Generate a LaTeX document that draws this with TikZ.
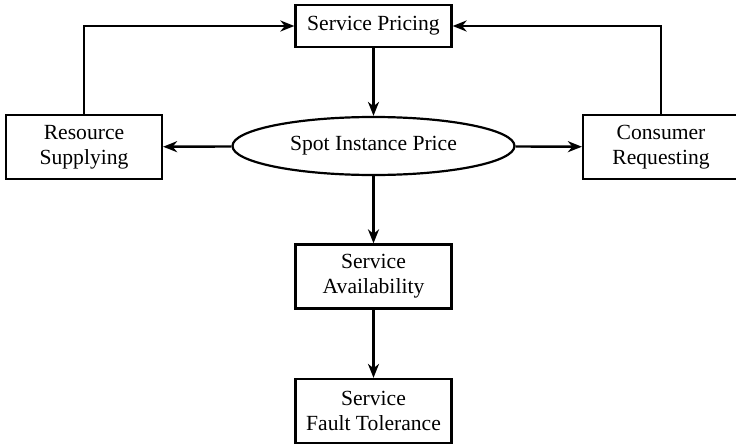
\documentclass[tikz,border=0pt]{standalone}
\usepackage{fontspec}
\setmainfont{Liberation Serif}
\usetikzlibrary{positioning,arrows.meta,shapes.geometric}

\tikzset{
  blk/.style={draw,line width=1.1pt,minimum width=78pt,align=center,inner sep=2pt},
  oval/.style={draw,ellipse,line width=1.1pt,minimum width=141pt,minimum height=29pt,inner sep=1pt},
  link/.style={->,>={Stealth[length=7pt,width=5.5pt,inset=2.2pt]},line width=1.2pt}
}

\begin{document}
\begin{tikzpicture}[x=0.5pt,y=-0.5pt,font=\fontsize{10.8}{12.6}\selectfont]
           \useasboundingbox (0,0) rectangle (736,445);
           \node[blk,minimum height=21pt] (pricing) at (373.5,26) {Service Pricing}; %上
           \node[oval] (spot) at (373.5,146) {Spot Instance Price}; %中心
           \node[blk,minimum height=32pt] (supply) at (84,147) {Resource\\Supplying};
           \node[blk,minimum height=32pt] (consumer) at (661,147) {Consumer\\Requesting};
           \node[blk,minimum height=32pt] (avail) at (373.5,276.5) {Service\\Availability};
           \node[blk,minimum height=32pt] (fault) at (373.5,411) {Service\\Fault Tolerance};

           \draw[link] (pricing) -- (spot);
           \draw[link] (spot) -- (supply);
           \draw[link] (spot) -- (consumer);
           \draw[link] (spot) -- (avail);
           \draw[link] (avail) -- (fault);
           \draw[link] (supply.north) |- (pricing.west); %左のループ
           \draw[link] (consumer.north) |- (pricing.east); %右のループ
\end{tikzpicture}
\end{document}
